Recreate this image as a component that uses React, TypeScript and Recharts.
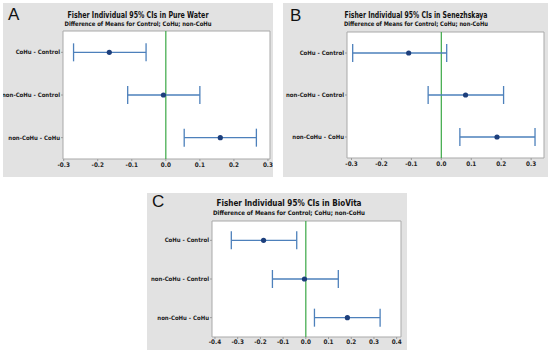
import React from 'react';
import { ScatterChart, Scatter, XAxis, YAxis, ErrorBar, ReferenceLine, ReferenceArea } from 'recharts';

const categories = ['CoHu - Control', 'non-CoHu - Control', 'non-CoHu - CoHu'];
const rowPositions = [1, 2, 3];

const pureWaterMean = [-0.166, -0.007, 0.16];
const pureWaterLow = [-0.271, -0.112, 0.054];
const pureWaterHigh = [-0.058, 0.1, 0.266];

const senezhskayaMean = [-0.109, 0.081, 0.186];
const senezhskayaLow = [-0.296, -0.044, 0.062];
const senezhskayaHigh = [0.018, 0.208, 0.313];

const bioVitaMean = [-0.186, -0.006, 0.183];
const bioVitaLow = [-0.328, -0.147, 0.038];
const bioVitaHigh = [-0.04, 0.143, 0.327];

const ticksAB = [-0.3, -0.2, -0.1, 0, 0.1, 0.2, 0.3];
const ticksC = [-0.4, -0.3, -0.2, -0.1, 0, 0.1, 0.2, 0.3, 0.4];

const subtitle = 'Difference of Means for Control; CoHu; non-CoHu';

const FONT = "'Liberation Sans Narrow', 'DejaVu Sans Condensed', 'Liberation Sans', Arial, sans-serif";
const LETTER_FONT = "'Liberation Sans', Arial, sans-serif";

function buildRows(mean: number[], low: number[], high: number[]) {
  return categories.map((c, i) => ({
    name: c,
    y: rowPositions[i],
    x: mean[i],
    err: [mean[i] - low[i], high[i] - mean[i]],
  }));
}

type PanelProps = {
  letter: string;
  title: string;
  left: number;
  top: number;
  width: number;
  height: number;
  margin: { top: number; right: number; left: number; bottom: number };
  yAxisWidth: number;
  xAxisHeight: number;
  domain: [number, number];
  ticks: number[];
  rows: any[];
  titleX: number;
  titleY: number;
  subtitleY: number;
  titleSize: number;
  titleWidth: number;
  subtitleWidth: number;
  letterX: number;
  letterY: number;
  tickMargin: number;
};

const Dot = (p: any) => <circle cx={p.cx} cy={p.cy} r={2.6} fill="#1d3f7c" />;

const CategoryTick = (p: any) => (
  <text
    x={p.x}
    y={p.y}
    dy="0.35em"
    textAnchor="end"
    fontSize={6.0}
    fontWeight={700}
    fill="#222"
    fontFamily={FONT}
  >
    {categories[p.payload.value - 1]}
  </text>
);

function Panel(props: PanelProps) {
  const { domain } = props;
  return (
    <div
      style={{
        position: 'absolute',
        left: props.left,
        top: props.top,
        width: props.width,
        height: props.height,
        background: '#e2e2e2',
      }}
    >
      <ScatterChart width={props.width} height={props.height} margin={props.margin}>
        <XAxis
          type="number"
          dataKey="x"
          domain={domain}
          allowDataOverflow
          ticks={props.ticks}
          interval={0}
          tickFormatter={(v: number) => v.toFixed(1)}
          height={props.xAxisHeight}
          axisLine={false}
          tickLine={{ stroke: '#9a9a9a' }}
          tickSize={2}
          tickMargin={props.tickMargin}
          tick={{ fontSize: 6.3, fontWeight: 700, fill: '#222', fontFamily: FONT }}
        />
        <YAxis
          type="number"
          dataKey="y"
          domain={[0.5, 3.5]}
          reversed
          ticks={rowPositions}
          interval={0}
          width={props.yAxisWidth}
          axisLine={false}
          tickLine={{ stroke: '#9a9a9a' }}
          tickSize={2}
          tickMargin={1}
          tick={CategoryTick}
        />
        <ReferenceArea
          x1={domain[0]}
          x2={domain[1]}
          y1={0.5}
          y2={3.5}
          fill="#ffffff"
          fillOpacity={1}
          stroke="#a9a9a9"
          strokeWidth={1}
        />
        <ReferenceLine x={0} stroke="#3aa845" strokeWidth={1.2} />
        <Scatter data={props.rows} shape={Dot} isAnimationActive={false}>
          <ErrorBar dataKey="err" direction="x" width={9} stroke="#4d80bb" strokeWidth={1.3} />
        </Scatter>
      </ScatterChart>
      <svg
        width={props.width}
        height={props.height}
        style={{ position: 'absolute', left: 0, top: 0, pointerEvents: 'none' }}
      >
        <text
          x={props.letterX}
          y={props.letterY}
          fontSize={17}
          fontFamily={LETTER_FONT}
          fill="#111"
        >
          {props.letter}
        </text>
        <text
          x={props.titleX}
          y={props.titleY}
          textAnchor="middle"
          fontSize={props.titleSize}
          fontWeight={700}
          fontFamily={FONT}
          fill="#111"
          textLength={props.titleWidth}
          lengthAdjust="spacingAndGlyphs"
        >
          {props.title}
        </text>
        <text
          x={props.titleX}
          y={props.subtitleY}
          textAnchor="middle"
          fontSize={6.2}
          fontWeight={700}
          fontFamily={FONT}
          fill="#111"
          textLength={props.subtitleWidth}
          lengthAdjust="spacingAndGlyphs"
        >
          {subtitle}
        </text>
      </svg>
    </div>
  );
}

export default function App() {
  return (
    <div style={{ position: 'absolute', left: 0, top: 0, width: 550, height: 355, background: '#fff', overflow: 'hidden' }}>
      <Panel
        letter="A"
        title="Fisher Individual 95% CIs in Pure Water"
        left={3}
        top={3}
        width={270}
        height={174}
        margin={{ top: 28, right: 3, left: 0, bottom: 0 }}
        yAxisWidth={60}
        xAxisHeight={18}
        domain={[-0.302, 0.306]}
        ticks={ticksAB}
        rows={buildRows(pureWaterMean, pureWaterLow, pureWaterHigh)}
        titleX={135}
        titleY={14.5}
        subtitleY={23.3}
        titleSize={8}
        titleWidth={141}
        subtitleWidth={147}
        letterX={5}
        letterY={17}
        tickMargin={2}
      />
      <Panel
        letter="B"
        title="Fisher Individual 95% CIs in Senezhskaya"
        left={283}
        top={3}
        width={265}
        height={174}
        margin={{ top: 29, right: 4, left: 0, bottom: 0 }}
        yAxisWidth={64}
        xAxisHeight={19}
        domain={[-0.315, 0.343]}
        ticks={ticksAB}
        rows={buildRows(senezhskayaMean, senezhskayaLow, senezhskayaHigh)}
        titleX={133}
        titleY={14.5}
        subtitleY={23.3}
        titleSize={8}
        titleWidth={143}
        subtitleWidth={144}
        letterX={7}
        letterY={17.7}
        tickMargin={2}
      />
      <Panel
        letter="C"
        title="Fisher Individual 95% CIs in BioVita"
        left={147}
        top={193}
        width={260}
        height={157}
        margin={{ top: 28, right: 6, left: 0, bottom: 0 }}
        yAxisWidth={65}
        xAxisHeight={13}
        domain={[-0.413, 0.419]}
        ticks={ticksC}
        rows={buildRows(bioVitaMean, bioVitaLow, bioVitaHigh)}
        titleX={142}
        titleY={13}
        subtitleY={22}
        titleSize={8.3}
        titleWidth={145}
        subtitleWidth={152}
        letterX={5}
        letterY={13.7}
        tickMargin={1}
      />
    </div>
  );
}
